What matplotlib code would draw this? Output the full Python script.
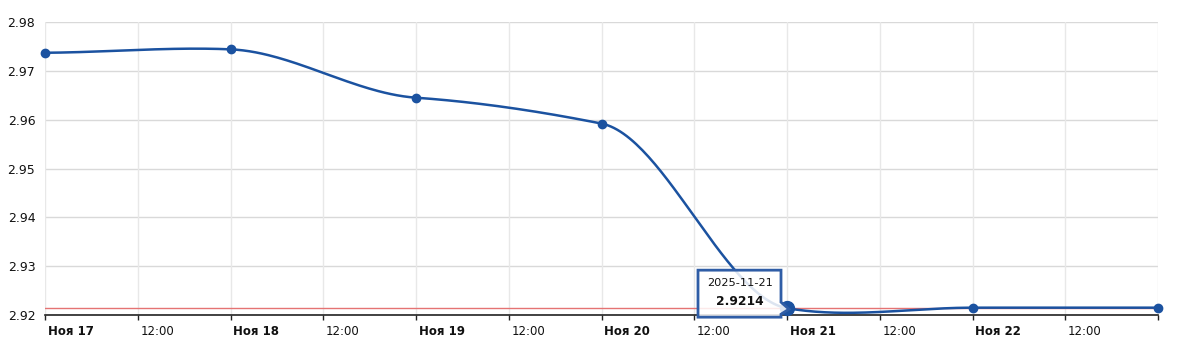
import numpy as np
import matplotlib
matplotlib.use("Agg")
import matplotlib.pyplot as plt
from matplotlib.patches import Polygon
from matplotlib.transforms import ScaledTranslation

# data
days = np.array(['2025-11-17', '2025-11-18', '2025-11-19', '2025-11-20',
                 '2025-11-21', '2025-11-22', '2025-11-23'], dtype='datetime64[D]')
rates = [2.9737, 2.9744, 2.9645, 2.9592, 2.9214, 2.9215, 2.9215]
ref_level = 2.9214
hover_idx = 4
tip_date = '2025-11-21'
tip_value = '2.9214'

tick_times = np.arange(np.datetime64('2025-11-17T00', 'h'), np.datetime64('2025-11-23T01', 'h'),
                       np.timedelta64(12, 'h'))
tick_labels = ['Ноя 17', '12:00', 'Ноя 18', '12:00', 'Ноя 19', '12:00', 'Ноя 20', '12:00',
               'Ноя 21', '12:00', 'Ноя 22', '12:00', '']
y_ticks = [2.92, 2.93, 2.94, 2.95, 2.96, 2.97, 2.98]

LINE = '#1b52a0'


def smooth(x, y, k=0.35, n=60):
    # cardinal-ish spline with reduced tangents
    x = np.asarray(x, float)
    y = np.asarray(y, float)
    m = np.zeros_like(y)
    for i in range(len(y)):
        a = max(i - 1, 0)
        b = min(i + 1, len(y) - 1)
        m[i] = k * (y[b] - y[a]) / (x[b] - x[a])
    xs, ys = [], []
    for i in range(len(y) - 1):
        h = x[i + 1] - x[i]
        t = np.linspace(0, 1, n)
        h00 = 2 * t**3 - 3 * t**2 + 1
        h10 = t**3 - 2 * t**2 + t
        h01 = -2 * t**3 + 3 * t**2
        h11 = t**3 - t**2
        xs.append(x[i] + t * h)
        ys.append(h00 * y[i] + h10 * h * m[i] + h01 * y[i + 1] + h11 * h * m[i + 1])
    return np.concatenate(xs), np.concatenate(ys)


def to_days(t):
    hours = t.astype('datetime64[h]') - np.datetime64('2025-11-17T00', 'h')
    return hours.astype('timedelta64[h]').astype(float) / 24.0


xd = to_days(days)
xt = to_days(tick_times)

fig = plt.figure(figsize=(11.8, 3.46), dpi=100)
ax = fig.add_axes([45 / 1180, 31 / 346, 1113 / 1180, 293 / 346])

sx, sy = smooth(xd, rates)

ax.set_xlim(xt[0], xt[-1])
ax.set_ylim(2.92, 2.98)

ax.set_yticks(y_ticks)
ax.set_yticklabels([f'{v:.2f}' for v in y_ticks], fontsize=9, color='#111111')
ax.set_xticks(xt)
ax.set_xticklabels(tick_labels, fontsize=8.5, color='#111111')
ax.tick_params(axis='y', length=0, pad=7)
ax.tick_params(axis='x', length=3.5, width=1, color='#222222', pad=3.5, direction='out')

offset = ScaledTranslation(2 / 72, 0, fig.dpi_scale_trans)
for lab, txt in zip(ax.get_xticklabels(), tick_labels):
    lab.set_horizontalalignment('left')
    lab.set_transform(lab.get_transform() + offset)
    if txt.startswith('Ноя'):
        lab.set_fontweight('bold')

for v in y_ticks:
    ax.axhline(v, color='#d9d9d9', lw=1, zorder=0)
for v in xt:
    ax.axvline(v, color='#e8e8e8', lw=1, zorder=0)

for s in ['left', 'right', 'top']:
    ax.spines[s].set_visible(False)
ax.spines['bottom'].set_color('#222222')
ax.spines['bottom'].set_linewidth(1.2)

ax.axhline(ref_level, color='#e57373', lw=1, zorder=1)
ax.plot(sx, sy, color=LINE, lw=1.8, zorder=3, clip_on=False)
ax.plot(xd, rates, 'o', color=LINE, ms=6, zorder=4, clip_on=False)
ax.plot(xd[hover_idx], rates[hover_idx], 'o', color=LINE, ms=10, zorder=5, clip_on=False)

# tooltip drawn in pixel space around the hovered point
fig.canvas.draw()
px, py = ax.transData.transform((xd[hover_idx], rates[hover_idx]))
shape = [(-89, 38), (-6, 38), (-6, 6), (2, -1), (-6, -6), (-6, -9), (-89, -9)]
verts = [(px + dx, py + dy) for dx, dy in shape]
fig.patches.append(Polygon(verts, closed=True, transform=None, facecolor='white',
                           alpha=0.85, edgecolor='none', zorder=6))
fig.patches.append(Polygon(verts, closed=True, transform=None, facecolor='none',
                           edgecolor='#2f5da6', lw=2, joinstyle='miter', zorder=7))
fig.text((px - 47) / 1180, (py + 25) / 346, tip_date, ha='center', va='center',
         fontsize=8.2, color='#111111', zorder=8)
fig.text((px - 47) / 1180, (py + 7) / 346, tip_value, ha='center', va='center',
         fontsize=8.8, fontweight='bold', color='#111111', zorder=8)

fig.savefig('out.png', dpi=100)
